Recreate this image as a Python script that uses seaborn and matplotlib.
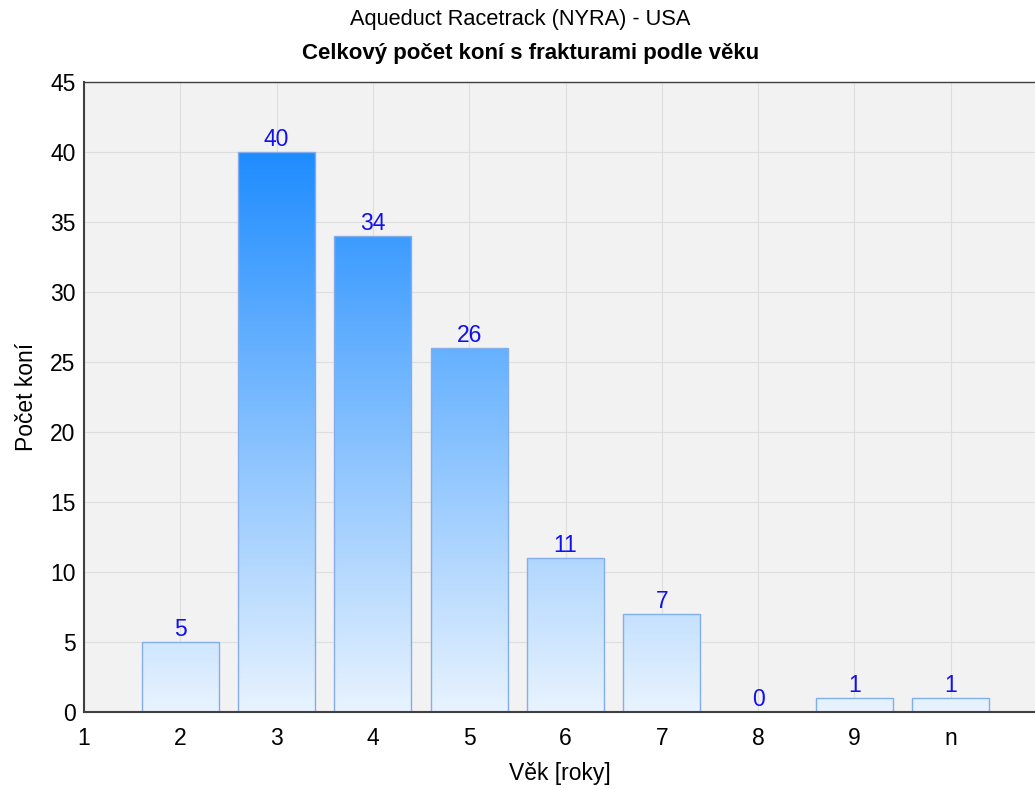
import numpy as np
import pandas as pd
import matplotlib
matplotlib.use("Agg")
import matplotlib.pyplot as plt
import seaborn as sns
from matplotlib.colors import LinearSegmentedColormap

# ── data ──────────────────────────────────────────────────────────────
ages = [2, 3, 4, 5, 6, 7, 8, 9, 10]
counts = [5, 40, 34, 26, 11, 7, 0, 1, 1]
tick_pos = [1, 2, 3, 4, 5, 6, 7, 8, 9, 10]
tick_labels = ["1", "2", "3", "4", "5", "6", "7", "8", "9", "n"]

df = pd.DataFrame({"vek": ages, "pocet": counts})

sns.set_style("white")
plt.rcParams["font.family"] = ["Liberation Sans", "DejaVu Sans"]
plt.rcParams["text.color"] = "black"
plt.rcParams["axes.labelcolor"] = "black"

fig = plt.figure(figsize=(10.35, 7.89), dpi=100)
ax = fig.add_axes([84 / 1035, 1 - 712 / 789, 1 - 84 / 1035, 630 / 789])
ax.set_facecolor("#F2F2F2")

sns.barplot(data=df, x="vek", y="pocet", native_scale=True, ax=ax,
            color="#1E90FF", edgecolor="#82AEEC", linewidth=1, zorder=2)

# gradient fill (global: light at 0, dodger blue at 40)
cmap = LinearSegmentedColormap.from_list("grad", ["#E8F3FE", "#1E8CFF"])
grad = np.linspace(0, 1, 256).reshape(-1, 1)
for p in ax.patches:
    p.set_facecolor("none")
    if p.get_height() <= 0:
        continue
    im = ax.imshow(grad, cmap=cmap, origin="lower", aspect="auto",
                   extent=[p.get_x(), p.get_x() + p.get_width(), 0, 40],
                   zorder=1.9)
    im.set_clip_path(p)
ax.set_xlim(1, 1 + (1035 - 84) / 96.3)
ax.set_ylim(0, 45)

for c in ax.containers:
    ax.bar_label(c, padding=1, color="#1010F0", fontsize=16.5)

ax.set_xticks(tick_pos)
ax.set_xticklabels(tick_labels)
ax.set_yticks(range(0, 46, 5))
ax.tick_params(direction="in", length=5, width=1.2, colors="#333333",
               labelcolor="black", labelsize=16.5)
ax.tick_params(axis="x", pad=11)
ax.tick_params(axis="y", pad=6)
ax.grid(True, color="#DEDEDE", linewidth=0.8, zorder=0)
ax.set_axisbelow(True)

for s in ["left", "bottom", "top"]:
    ax.spines[s].set_color("#404040")
    ax.spines[s].set_linewidth(1.5)
ax.spines["top"].set_linewidth(1.0)
ax.spines["right"].set_visible(False)

ax.set_xlabel("Věk [roky]", fontsize=16.5)
ax.xaxis.set_label_coords((560 - 84) / (1035 - 84), -50 / 630)
ax.set_ylabel("Počet koní", fontsize=16.5, labelpad=9)

fig.text(0.503, 1 - 19 / 789, "Aqueduct Racetrack (NYRA) - USA",
         ha="center", va="center", fontsize=15.7)
fig.text(0.513, 1 - 53 / 789, "Celkový počet koní s frakturami podle věku",
         ha="center", va="center", fontsize=16, fontweight="bold")

fig.savefig("out.png", dpi=100)
